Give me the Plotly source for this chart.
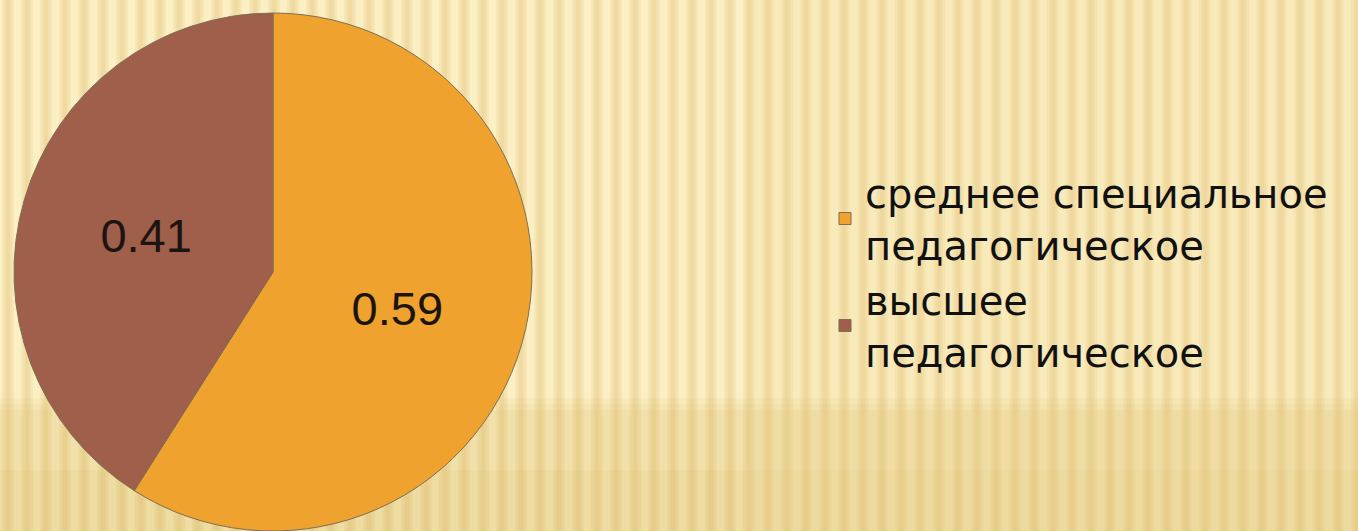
import plotly.graph_objects as go

categories = ["среднее специальное<br>педагогическое", "высшее<br>педагогическое"]
values = [0.59, 0.41]
colors = ["#EFA22E", "#9F5F4A"]

W, H = 1358, 531

fig = go.Figure()
fig.add_trace(go.Pie(
    labels=categories,
    values=values,
    sort=False,
    direction="clockwise",
    rotation=0,
    marker=dict(colors=colors, line=dict(color="#7d6e55", width=1)),
    textinfo="value",
    texttemplate="%{value}",
    textposition="inside",
    insidetextorientation="horizontal",
    textfont=dict(family="Liberation Sans, Arial, sans-serif", size=47, color="#1c1410"),
    domain=dict(x=[14 / W, 532 / W], y=[0, 518 / H]),
    hoverinfo="label+value",
))

# background: soft striped paper texture
shapes = []
x = 0
period = 19
while x < W:
    for (a, b, op) in [(2, 14, 0.22), (4, 12, 0.25), (6, 10, 0.28)]:
        shapes.append(dict(type="rect", xref="paper", yref="paper", layer="below",
                           x0=(x + a) / W, x1=(x + b) / W, y0=0, y1=1,
                           fillcolor="#e6cd88", opacity=op, line=dict(width=0)))
    x += period
# darker lower band with soft edge
for (top, op) in [(398, 0.08), (404, 0.10), (410, 0.10), (470, 0.10)]:
    shapes.append(dict(type="rect", xref="paper", yref="paper", layer="below",
                       x0=0, x1=1, y0=0, y1=(H - top) / H,
                       fillcolor="#d7b65e", opacity=op, line=dict(width=0)))
# slightly darker right side
shapes.append(dict(type="rect", xref="paper", yref="paper", layer="below",
                   x0=0.55, x1=1, y0=0, y1=1,
                   fillcolor="#e8cf8a", opacity=0.15, line=dict(width=0)))

fig.update_layout(
    width=W, height=H,
    margin=dict(l=0, r=0, t=0, b=0),
    paper_bgcolor="#fbefc4",
    plot_bgcolor="rgba(0,0,0,0)",
    shapes=shapes,
    showlegend=True,
    legend=dict(
        x=825 / W, y=(H - 160) / H, xanchor="left", yanchor="top",
        font=dict(family="DejaVu Sans, sans-serif", size=40, color="#111111"),
        bgcolor="rgba(0,0,0,0)",
        tracegroupgap=0,
    ),
)

fig.write_html("out.html", config={"displayModeBar": False},
               post_script="document.body.style.margin='0';document.body.style.overflow='hidden';")
